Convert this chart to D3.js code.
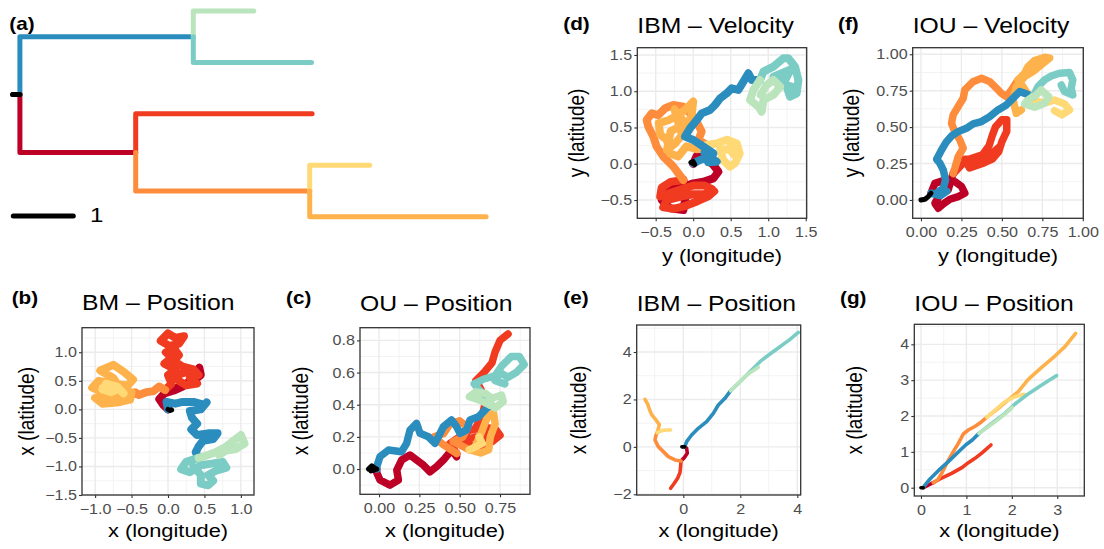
<!DOCTYPE html>
<html>
<head>
<meta charset="utf-8">
<script src="https://cdn.jsdelivr.net/npm/d3@7"></script>
<style>
  body { margin: 0; background: #fff; }
  svg { display: block; }
  text { font-family: "Liberation Sans", Arial, sans-serif; }
</style>
</head>
<body>
<svg id="fig" width="1104" height="549"></svg>
<script>
// branch order / colours shared by every panel
const branches = ['root', 'blue', 'lgreen', 'teal', 'dred', 'redor', 'orange', 'yellow', 'lorange'];
const branchColor = {
  root: '#000000', blue: '#2B8CBE', lgreen: '#BAE4BC', teal: '#7BCCC4',
  dred: '#BD0026', redor: '#F03B20', orange: '#FD8D3C', yellow: '#FED976', lorange: '#FEB24C'
};

// (a) tree: parent, branch length, tip row
const treeParent = { root: null, blue: 'root', lgreen: 'blue', teal: 'blue', dred: 'root', redor: 'dred', orange: 'dred', yellow: 'orange', lorange: 'orange' };
const treeLength = { root: 0.12, blue: 2.89, lgreen: 1.01, teal: 1.97, dred: 1.93, redor: 2.94, orange: 2.9, yellow: 1.0, lorange: 2.94 };
const tipRow = { lgreen: 0, teal: 1, redor: 2, yellow: 3, lorange: 4 };

// (b) BM position
const bmPos = {
  root: [[0,0],[0.03,-0.02],[0.05,-0.01]],
  blue: [[0,0],[-0.02,0.13],[0.1,0.1],[0.2,0.13],[0.35,0.13],[0.5,0.08],[0.53,0.12],[0.45,0],[0.3,-0.03],[0.33,-0.15],[0.4,-0.25],[0.32,-0.35],[0.4,-0.45],[0.55,-0.42],[0.68,-0.42],[0.62,-0.52],[0.48,-0.55],[0.42,-0.65],[0.38,-0.75],[0.42,-0.85]],
  lgreen: [[0.42,-0.85],[0.5,-0.82],[0.65,-0.75],[0.8,-0.65],[0.9,-0.55],[1.0,-0.45],[1.05,-0.6],[0.92,-0.7],[0.8,-0.72],[0.7,-0.8]],
  teal: [[0.42,-0.85],[0.25,-0.92],[0.18,-1.05],[0.3,-1.1],[0.45,-0.98],[0.6,-0.95],[0.75,-0.92],[0.8,-1.02],[0.65,-1.08],[0.55,-1.15],[0.62,-1.25],[0.55,-1.33],[0.45,-1.3],[0.45,-1.15],[0.35,-1.0]],
  dred: [[0,0],[-0.06,0.07],[-0.12,0.18],[-0.05,0.28],[0.08,0.33],[0.2,0.4],[0.3,0.5],[0.43,0.73],[0.45,0.6],[0.3,0.45],[0.1,0.37],[-0.04,0.34]],
  redor: [[-0.04,0.34],[0.05,0.45],[0,0.6],[0.1,0.7],[-0.05,0.8],[0.05,0.9],[-0.03,1.0],[0.1,1.05],[-0.1,1.2],[0,1.33],[0.1,1.25],[0.22,1.28],[0.15,1.15],[0.05,1.12],[0.15,0.95],[0.08,0.85],[0.2,0.75],[0.35,0.7],[0.42,0.6],[0.3,0.55],[0.4,0.45],[0.25,0.42],[0.15,0.5],[0.12,0.6],[0.25,0.65]],
  orange: [[-0.04,0.34],[-0.12,0.4],[-0.2,0.32],[-0.3,0.3],[-0.4,0.25],[-0.45,0.3],[-0.55,0.22],[-0.61,0.28]],
  yellow: [[-0.61,0.28],[-0.7,0.4],[-0.85,0.45],[-0.9,0.35],[-0.78,0.3],[-0.68,0.36],[-0.8,0.42]],
  lorange: [[-0.61,0.28],[-0.75,0.55],[-0.93,0.68],[-0.75,0.78],[-0.6,0.65],[-0.48,0.52],[-0.55,0.42],[-0.75,0.45],[-0.95,0.5],[-1.04,0.38],[-0.9,0.3],[-0.7,0.3],[-0.5,0.3],[-0.52,0.17],[-0.7,0.12],[-0.9,0.1],[-1.0,0.2],[-0.85,0.22],[-0.65,0.2]]
};

// (c) OU position
const ouPos = {
  root: [[-0.066,0],[-0.045,0.02],[-0.025,0.005],[-0.05,-0.012],[-0.014,0]],
  blue: [[-0.014,0],[-0.014,0.015],[0.006,0.077],[0.058,0.118],[0.14,0.108],[0.171,0.16],[0.192,0.242],[0.233,0.284],[0.254,0.222],[0.306,0.201],[0.347,0.16],[0.368,0.201],[0.399,0.263],[0.45,0.305],[0.481,0.263],[0.502,0.222],[0.543,0.242],[0.564,0.305],[0.616,0.325],[0.657,0.367],[0.688,0.398]],
  lgreen: [[0.688,0.398],[0.62,0.43],[0.56,0.45],[0.6,0.48],[0.66,0.47],[0.7,0.44],[0.76,0.46],[0.77,0.42],[0.72,0.38],[0.68,0.42]],
  teal: [[0.688,0.398],[0.64,0.47],[0.59,0.53],[0.65,0.56],[0.72,0.58],[0.76,0.64],[0.82,0.7],[0.87,0.7],[0.9,0.65],[0.85,0.6],[0.8,0.57],[0.75,0.6],[0.72,0.55],[0.78,0.53]],
  dred: [[-0.014,0],[-0.014,-0.023],[0.006,-0.068],[0.068,-0.1],[0.12,-0.068],[0.11,-0.006],[0.14,0.056],[0.192,0.087],[0.233,0.056],[0.275,0.025],[0.316,-0.017],[0.357,0.015],[0.399,0.056],[0.45,0.118],[0.481,0.077],[0.481,0.097]],
  redor: [[0.481,0.097],[0.44,0.16],[0.5,0.2],[0.56,0.24],[0.65,0.26],[0.72,0.25],[0.75,0.21],[0.7,0.17],[0.62,0.14],[0.55,0.15],[0.5,0.17],[0.6,0.2],[0.68,0.2],[0.6,0.26],[0.64,0.33],[0.66,0.42],[0.63,0.5],[0.6,0.55],[0.65,0.6],[0.7,0.66],[0.72,0.73],[0.75,0.8],[0.8,0.84]],
  orange: [[0.481,0.097],[0.4,0.15],[0.34,0.2],[0.4,0.22],[0.44,0.28],[0.5,0.3],[0.55,0.26],[0.52,0.2],[0.46,0.17],[0.56,0.12]],
  yellow: [[0.56,0.12],[0.6,0.14],[0.64,0.16],[0.62,0.2]],
  lorange: [[0.56,0.12],[0.63,0.1],[0.68,0.12],[0.69,0.2],[0.72,0.28],[0.71,0.35],[0.67,0.32],[0.64,0.24],[0.6,0.15]]
};

// (d) IBM velocity
const ibmVel = {
  root: [[0,0],[-0.03,0.02],[0,0.03],[0.02,-0.01]],
  blue: [[0.002,0.006],[0.091,0.052],[0.224,0.098],[0.313,0.029],[0.2,0.02],[0.15,0.15],[0.269,0.144],[0.136,0.236],[0.002,0.328],[-0.109,0.374],[-0.042,0.489],[0.047,0.603],[0.113,0.695],[0.224,0.741],[0.291,0.81],[0.358,0.902],[0.447,0.971],[0.513,1.04],[0.602,1.017],[0.669,1.132],[0.736,1.247],[0.78,1.155],[0.891,1.155]],
  lgreen: [[0.891,1.155],[0.802,1.017],[0.758,0.879],[0.869,0.787],[0.913,0.718],[0.936,0.879],[1.069,0.948],[1.158,1.063],[1.069,1.155],[0.98,1.086],[0.9,0.95]],
  teal: [[0.891,1.155],[0.936,1.27],[1.069,1.339],[1.202,1.454],[1.269,1.454],[1.358,1.339],[1.402,1.155],[1.38,0.971],[1.291,0.925],[1.247,1.063],[1.158,1.201],[1.069,1.201],[1.3,1.3],[1.2,1.1],[1.35,1.05]],
  dred: [[0,0],[0.047,0.107],[0.158,0.075],[0.269,-0.017],[0.336,-0.109],[0.269,-0.201],[0.136,-0.247],[0.002,-0.27],[-0.131,-0.316],[-0.264,-0.339],[-0.398,-0.408],[-0.42,-0.5],[-0.309,-0.615],[-0.131,-0.638],[-0.1,-0.45],[-0.131,-0.224]],
  redor: [[-0.131,-0.224],[-0.3,-0.25],[-0.42,-0.33],[-0.44,-0.45],[-0.3,-0.4],[-0.15,-0.35],[0,-0.3],[0.15,-0.3],[0.25,-0.35],[0.15,-0.42],[0,-0.42],[-0.15,-0.45],[-0.35,-0.5],[-0.4,-0.6],[-0.25,-0.62],[-0.1,-0.58],[0.05,-0.52],[0.2,-0.45],[0.28,-0.38]],
  orange: [[-0.131,-0.224],[-0.264,-0.04],[-0.398,0.098],[-0.487,0.236],[-0.531,0.374],[-0.598,0.511],[-0.62,0.603],[-0.553,0.695],[-0.464,0.672],[-0.376,0.764],[-0.264,0.81],[-0.131,0.787],[-0.042,0.695],[0.047,0.58],[0.113,0.443],[0.069,0.328],[0.18,0.259]],
  yellow: [[0.18,0.26],[0.31,0.28],[0.45,0.33],[0.58,0.28],[0.62,0.14],[0.56,0.01],[0.49,-0.04],[0.4,0.05],[0.36,0.19],[0.48,0.2],[0.55,0.12],[0.5,0.25]],
  lorange: [[0.18,0.26],[0.05,0.2],[-0.09,0.24],[-0.2,0.1],[-0.31,0.14],[-0.35,0.33],[-0.44,0.4],[-0.46,0.56],[-0.33,0.6],[-0.2,0.67],[-0.09,0.76],[0,0.86],[-0.02,0.67],[-0.13,0.42],[-0.24,0.28],[-0.35,0.19],[-0.3,0.45],[-0.2,0.5],[-0.1,0.55],[-0.25,0.75],[-0.15,0.4]]
};

// (f) IOU velocity
const iouVel = {
  root: [[0,0],[0.025,0.005],[0.045,0.023],[0.062,0.046]],
  blue: [[0.062,0.046],[0.12,0.03],[0.16,0.06],[0.107,0.057],[0.138,0.08],[0.152,0.137],[0.138,0.206],[0.117,0.252],[0.097,0.279],[0.127,0.343],[0.158,0.4],[0.189,0.439],[0.23,0.469],[0.281,0.492],[0.322,0.522],[0.374,0.538],[0.425,0.572],[0.476,0.618],[0.528,0.652],[0.569,0.698],[0.61,0.744],[0.651,0.728],[0.692,0.709]],
  lgreen: [[0.692,0.709],[0.661,0.686],[0.641,0.659],[0.702,0.636],[0.764,0.664],[0.789,0.709],[0.743,0.755],[0.713,0.721]],
  teal: [[0.692,0.709],[0.723,0.778],[0.764,0.824],[0.805,0.851],[0.856,0.87],[0.918,0.874],[0.938,0.824],[0.928,0.767],[0.938,0.721],[0.887,0.744],[0.867,0.789]],
  dred: [[0.062,0.046],[0.086,0.114],[0.148,0.137],[0.209,0.126],[0.251,0.092],[0.271,0.046],[0.23,0.023],[0.179,0.005],[0.138,-0.027],[0.107,-0.057],[0.086,-0.023],[0.117,0.034],[0.168,0.069],[0.199,0.183]],
  redor: [[0.2,0.18],[0.25,0.24],[0.3,0.28],[0.38,0.31],[0.42,0.37],[0.44,0.44],[0.46,0.5],[0.5,0.55],[0.53,0.55],[0.53,0.47],[0.5,0.4],[0.48,0.33],[0.44,0.28],[0.38,0.25],[0.3,0.22],[0.27,0.28],[0.35,0.28],[0.42,0.3],[0.48,0.36]],
  orange: [[0.199,0.183],[0.209,0.217],[0.23,0.297],[0.261,0.355],[0.24,0.412],[0.209,0.469],[0.189,0.526],[0.199,0.584],[0.23,0.641],[0.261,0.698],[0.271,0.755],[0.322,0.812],[0.374,0.835],[0.425,0.812],[0.466,0.767],[0.497,0.732],[0.528,0.709],[0.559,0.755],[0.6,0.824],[0.641,0.755],[0.682,0.686]],
  yellow: [[0.682,0.686],[0.764,0.664],[0.825,0.686],[0.887,0.659],[0.918,0.618],[0.871,0.584],[0.825,0.613]],
  lorange: [[0.682,0.686],[0.641,0.76],[0.6,0.824],[0.641,0.87],[0.661,0.915],[0.702,0.957],[0.764,0.979],[0.795,0.973],[0.743,0.927],[0.692,0.881],[0.641,0.847],[0.589,0.778],[0.569,0.686],[0.589,0.595],[0.62,0.618]]
};

// (e) IBM position
const ibmPos = {
  root: [[-0.05,0],[0.05,0]],
  blue: [[0.05,0],[0.117,0.22],[0.292,0.501],[0.526,0.782],[0.819,1.063],[1.053,1.415],[1.228,1.766],[1.462,2.047],[1.661,2.37]],
  lgreen: [[1.661,2.37],[1.871,2.609],[2.105,2.89],[2.339,3.129],[2.632,3.354]],
  teal: [[1.661,2.37],[1.988,2.749],[2.339,3.171],[2.69,3.593],[3.041,3.916],[3.392,4.225],[3.743,4.534],[4.035,4.829]],
  dred: [[0.05,0],[0.117,-0.06],[0.14,-0.27],[0.035,-0.453],[-0.082,-0.594]],
  redor: [[-0.082,-0.594],[-0.094,-0.833],[-0.117,-1.086],[-0.199,-1.325],[-0.316,-1.536],[-0.444,-1.747]],
  orange: [[-0.082,-0.594],[-0.292,-0.552],[-0.526,-0.411],[-0.702,-0.2],[-0.877,0.01],[-0.994,0.291],[-0.959,0.487],[-0.912,0.6]],
  yellow: [[-0.912,0.6],[-0.76,0.684],[-0.585,0.712],[-0.444,0.712]],
  lorange: [[-0.912,0.6],[-0.842,0.937],[-0.959,1.134],[-1.111,1.359],[-1.193,1.598],[-1.251,1.809],[-1.345,2.005]]
};

// (g) IOU position
const iouPos = {
  root: [[0,0],[0.05,0]],
  blue: [[0.05,0],[0.088,0.074],[0.198,0.242],[0.382,0.474],[0.602,0.726],[0.822,0.995],[0.983,1.191],[1.13,1.33],[1.277,1.516]],
  lgreen: [[1.277,1.516],[1.482,1.702],[1.702,1.907],[1.886,2.093],[2.01,2.242]],
  teal: [[1.277,1.516],[1.555,1.795],[1.849,2.074],[2.069,2.335],[2.326,2.586],[2.583,2.8],[2.803,2.986],[2.986,3.126]],
  dred: [[0.05,0],[0.161,0.074],[0.271,0.14]],
  redor: [[0.271,0.14],[0.455,0.27],[0.675,0.4],[0.91,0.567],[1.042,0.698],[1.189,0.819],[1.35,0.977],[1.541,1.191]],
  orange: [[0.271,0.14],[0.367,0.214],[0.455,0.4],[0.565,0.679],[0.712,1.005],[0.822,1.237],[0.932,1.498],[1.042,1.609],[1.203,1.721],[1.335,1.842],[1.445,1.963]],
  yellow: [[1.445,1.963],[1.629,2.167],[1.849,2.4],[2.069,2.54],[2.267,2.605]],
  lorange: [[1.445,1.963],[1.702,2.214],[1.922,2.447],[2.142,2.679],[2.362,3.023],[2.656,3.358],[2.949,3.674],[3.17,3.935],[3.404,4.307]]
};

// tick values
const bmXTicks = [-1, -0.5, 0, 0.5, 1], bmYTicks = [-1.5, -1, -0.5, 0, 0.5, 1];
const ouXTicks = [0, 0.25, 0.5, 0.75], ouYTicks = [0, 0.2, 0.4, 0.6, 0.8];
const ibmVelXTicks = [-0.5, 0, 0.5, 1, 1.5], ibmVelYTicks = [-0.5, 0, 0.5, 1, 1.5];
const iouVelXTicks = [0, 0.25, 0.5, 0.75, 1], iouVelYTicks = [0, 0.25, 0.5, 0.75, 1];
const ibmPosXTicks = [0, 2, 4], ibmPosYTicks = [-2, 0, 2, 4];
const iouPosXTicks = [0, 1, 2, 3], iouPosYTicks = [0, 1, 2, 3, 4];

const SX = 1.15; // the figure is a bit wider than tall
const svg = d3.select('#fig');
svg.append('rect').attr('width', 1104).attr('height', 549).attr('fill', '#fff');

function addText(x, y, s, size, o = {}) {
  return svg.append('text')
    .attr('transform', `translate(${x},${y}) scale(${SX},1)` + (o.rot ? ' rotate(-90)' : ''))
    .attr('text-anchor', o.anchor || 'start')
    .attr('font-size', size)
    .attr('font-weight', o.bold ? 'bold' : null)
    .attr('fill', o.fill || '#000')
    .text(s);
}

// ---- (a) tree ----
const xTree = d3.scaleLinear().domain([0, 1]).range([12.7, 72.7]);
const yTree = d3.scaleLinear().domain([0, 4]).range([11, 216.7]);

const endDepth = {}, row = {};
branches.forEach(b => {
  const p = treeParent[b];
  endDepth[b] = (p ? endDepth[p] : 0) + treeLength[b];
});
function nodeRow(b) {
  if (tipRow[b] !== undefined) return tipRow[b];
  const kids = branches.filter(k => treeParent[k] === b);
  return d3.mean(kids, nodeRow);
}
branches.forEach(b => row[b] = nodeRow(b));

const treeG = svg.append('g');
branches.forEach(b => {
  const p = treeParent[b];
  const d0 = p ? endDepth[p] : 0;
  const pts = p ? [[d0, row[p]], [d0, row[b]], [endDepth[b], row[b]]] : [[0, row[b]], [endDepth[b], row[b]]];
  treeG.append('path')
    .attr('d', d3.line().x(d => xTree(d[0])).y(d => yTree(d[1]))(pts))
    .attr('fill', 'none')
    .attr('stroke', branchColor[b])
    .attr('stroke-width', 5)
    .attr('stroke-linecap', 'round')
    .attr('stroke-linejoin', 'round');
});
// redraw root on top
treeG.append('line')
  .attr('x1', xTree(0)).attr('x2', xTree(treeLength.root))
  .attr('y1', yTree(row.root)).attr('y2', yTree(row.root))
  .attr('stroke', '#000').attr('stroke-width', 5).attr('stroke-linecap', 'round');
// scale bar
treeG.append('line')
  .attr('x1', xTree(0) + 0.6).attr('x2', xTree(1) + 0.6)
  .attr('y1', 216).attr('y2', 216)
  .attr('stroke', '#000').attr('stroke-width', 5).attr('stroke-linecap', 'round');
addText(90, 221.7, '1', 21);
addText(9.3, 29.5, '(a)', 18, { bold: true });

// ---- walk panels ----
const drawOrder = ['dred', 'redor', 'orange', 'lorange', 'yellow', 'blue', 'teal', 'lgreen', 'root'];

const panels = [
  { tag: '(b)', title: 'BM \u2013 Position', xLab: 'x (longitude)', yLab: 'x (latitude)', data: bmPos,
    xDom: [-1.18, 1.18], yDom: [-1.5, 1.43], box: [82, 327.7, 254, 495],
    xT: bmXTicks, yT: bmYTicks, xF: '.1f', yF: '.1f', lw: 8,
    tagX: 11.7, tagY: 303.5, titleY: 310, yLabX: 34, xLabY: 536.7 },
  { tag: '(c)', title: 'OU \u2013 Position', xLab: 'x (longitude)', yLab: 'x (latitude)', data: ouPos,
    xDom: [-0.118, 0.936], yDom: [-0.157, 0.879], box: [360, 327.7, 530, 494.3],
    xT: ouXTicks, yT: ouYTicks, xF: '.2f', yF: '.1f', lw: 7.5,
    tagX: 286, tagY: 303.5, titleY: 310.5, yLabX: 308, xLabY: 536.7 },
  { tag: '(d)', title: 'IBM \u2013 Velocity', xLab: 'y (longitude)', yLab: 'y (latitude)', data: ibmVel,
    xDom: [-0.745, 1.513], yDom: [-0.752, 1.6], box: [637.3, 47.7, 806.7, 218.3],
    xT: ibmVelXTicks, yT: ibmVelYTicks, xF: '.1f', yF: '.1f', lw: 8,
    tagX: 563.3, tagY: 29.5, titleY: 32.5, yLabX: 584, xLabY: 261.7 },
  { tag: '(f)', title: 'IOU \u2013 Velocity', xLab: 'y (longitude)', yLab: 'y (latitude)', data: iouVel,
    xDom: [-0.051, 1.003], yDom: [-0.126, 1.045], box: [912.7, 47.7, 1083.3, 218.3],
    xT: iouVelXTicks, yT: iouVelYTicks, xF: '.2f', yF: '.2f', lw: 7.5,
    tagX: 838, tagY: 29.5, titleY: 32.5, yLabX: 859, xLabY: 261.7 },
  { tag: '(e)', title: 'IBM \u2013 Position', xLab: 'x (longitude)', yLab: 'x (latitude)', data: ibmPos,
    xDom: [-1.635, 4.119], yDom: [-2.03, 5.139], box: [636.7, 325, 800.7, 495],
    xT: ibmPosXTicks, yT: ibmPosYTicks, xF: 'd', yF: 'd', lw: 3.6,
    tagX: 563.3, tagY: 303.5, titleY: 310.5, yLabX: 585.5, xLabY: 536.7 },
  { tag: '(g)', title: 'IOU \u2013 Position', xLab: 'x (longitude)', yLab: 'x (latitude)', data: iouPos,
    xDom: [-0.147, 3.595], yDom: [-0.232, 4.559], box: [914.3, 324.3, 1084.3, 496],
    xT: iouPosXTicks, yT: iouPosYTicks, xF: 'd', yF: 'd', lw: 3.6,
    tagX: 840, tagY: 303.5, titleY: 310.5, yLabX: 862, xLabY: 536.7 }
];

function minorsOf(ticks, dom) {
  const step = ticks[1] - ticks[0];
  const out = [];
  for (let v = ticks[0] - step / 2; v <= dom[1]; v += step) {
    if (v >= dom[0]) out.push(v);
  }
  return out;
}

panels.forEach((p, i) => {
  const [l, t, r, b] = p.box;
  const x = d3.scaleLinear().domain(p.xDom).range([l, r]);
  const y = d3.scaleLinear().domain(p.yDom).range([b, t]);
  const g = svg.append('g');

  // grid
  const grid = g.append('g');
  minorsOf(p.xT, p.xDom).forEach(v => grid.append('line').attr('x1', x(v)).attr('x2', x(v)).attr('y1', t).attr('y2', b)
    .attr('stroke', '#F2F2F2').attr('stroke-width', 0.9));
  minorsOf(p.yT, p.yDom).forEach(v => grid.append('line').attr('y1', y(v)).attr('y2', y(v)).attr('x1', l).attr('x2', r)
    .attr('stroke', '#F2F2F2').attr('stroke-width', 0.9));
  p.xT.forEach(v => grid.append('line').attr('x1', x(v)).attr('x2', x(v)).attr('y1', t).attr('y2', b)
    .attr('stroke', '#EBEBEB').attr('stroke-width', 1.4));
  p.yT.forEach(v => grid.append('line').attr('y1', y(v)).attr('y2', y(v)).attr('x1', l).attr('x2', r)
    .attr('stroke', '#EBEBEB').attr('stroke-width', 1.4));

  // walks
  const clipId = 'clip' + i;
  svg.append('clipPath').attr('id', clipId).append('rect')
    .attr('x', l).attr('y', t).attr('width', r - l).attr('height', b - t);
  const line = d3.line().x(d => x(d[0])).y(d => y(d[1]));
  const walks = g.append('g').attr('clip-path', `url(#${clipId})`);
  drawOrder.forEach(k => {
    walks.append('path')
      .attr('d', line(p.data[k]))
      .attr('fill', 'none')
      .attr('stroke', branchColor[k])
      .attr('stroke-width', k === 'root' ? Math.min(p.lw, 5) : p.lw)
      .attr('stroke-linecap', 'round')
      .attr('stroke-linejoin', 'round');
  });

  // border
  g.append('rect').attr('x', l).attr('y', t).attr('width', r - l).attr('height', b - t)
    .attr('fill', 'none').attr('stroke', '#333').attr('stroke-width', 1.3);

  // axes
  const gx = g.append('g').attr('transform', `translate(0,${b})`)
    .call(d3.axisBottom(x).tickValues(p.xT).tickFormat(d3.format(p.xF)).tickSize(3).tickPadding(6));
  const gy = g.append('g').attr('transform', `translate(${l},0)`)
    .call(d3.axisLeft(y).tickValues(p.yT).tickFormat(d3.format(p.yF)).tickSize(3).tickPadding(1.4));
  [gx, gy].forEach(ax => {
    ax.select('.domain').remove();
    ax.selectAll('line').attr('stroke', '#333').attr('stroke-width', 1.1);
    ax.selectAll('text')
      .attr('fill', '#4D4D4D')
      .attr('font-size', 14)
      .attr('font-family', '"Liberation Sans", Arial, sans-serif')
      .attr('transform', `scale(${SX},1)`);
  });

  // texts
  addText(p.tagX, p.tagY, p.tag, 18, { bold: true });
  addText(l, p.titleY, p.title, 21.5);
  addText((l + r) / 2, p.xLabY, p.xLab, 19, { anchor: 'middle' });
  addText(p.yLabX, (t + b) / 2, p.yLab, 19, { anchor: 'middle', rot: true });
});
</script>
</body>
</html>
